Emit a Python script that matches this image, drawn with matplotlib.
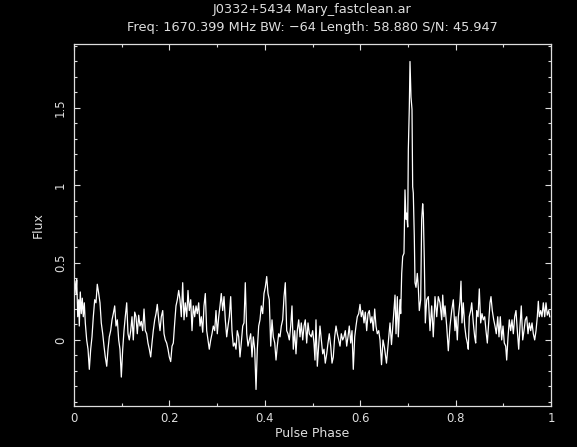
import matplotlib
matplotlib.use("Agg")
import matplotlib.pyplot as plt
from matplotlib.ticker import MultipleLocator, FuncFormatter

# Integrated pulse profile of J0332+5434 (pulse phase vs. flux)
phase = [
    0.0021, 0.0042, 0.0057, 0.0078, 0.0099, 0.0111, 0.0132, 0.0153, 0.0174, 0.0195,
    0.0216, 0.0237, 0.0266, 0.0294, 0.0321, 0.0350, 0.0377, 0.0405, 0.0434, 0.0461,
    0.0488, 0.0518, 0.0545, 0.0572, 0.0602, 0.0629, 0.0656, 0.0686, 0.0713, 0.0740,
    0.0769, 0.0797, 0.0824, 0.0853, 0.0881, 0.0908, 0.0937, 0.0964, 0.0992, 0.1021,
    0.1048, 0.1075, 0.1105, 0.1132, 0.1159, 0.1189, 0.1216, 0.1243, 0.1273, 0.1300,
    0.1327, 0.1356, 0.1384, 0.1411, 0.1440, 0.1468, 0.1495, 0.1524, 0.1551, 0.1579,
    0.1608, 0.1635, 0.1662, 0.1692, 0.1719, 0.1746, 0.1776, 0.1803, 0.1830, 0.1860,
    0.1887, 0.1914, 0.1943, 0.1971, 0.1998, 0.2027, 0.2055, 0.2082, 0.2111, 0.2138,
    0.2166, 0.2195, 0.2222, 0.2250, 0.2279, 0.2306, 0.2333, 0.2363, 0.2390, 0.2417,
    0.2447, 0.2474, 0.2501, 0.2530, 0.2558, 0.2585, 0.2614, 0.2642, 0.2669, 0.2698,
    0.2725, 0.2753, 0.2782, 0.2809, 0.2836, 0.2866, 0.2893, 0.2920, 0.2950, 0.2977,
    0.3004, 0.3034, 0.3061, 0.3088, 0.3117, 0.3145, 0.3172, 0.3201, 0.3229, 0.3256,
    0.3285, 0.3312, 0.3340, 0.3369, 0.3396, 0.3423, 0.3453, 0.3480, 0.3507, 0.3537,
    0.3564, 0.3591, 0.3621, 0.3648, 0.3675, 0.3704, 0.3732, 0.3759, 0.3788, 0.3816,
    0.3843, 0.3872, 0.3899, 0.3927, 0.3956, 0.3983, 0.4010, 0.4040, 0.4067, 0.4094,
    0.4124, 0.4151, 0.4178, 0.4208, 0.4235, 0.4262, 0.4291, 0.4319, 0.4346, 0.4375,
    0.4403, 0.4430, 0.4459, 0.4486, 0.4514, 0.4543, 0.4570, 0.4597, 0.4627, 0.4654,
    0.4681, 0.4711, 0.4738, 0.4765, 0.4795, 0.4822, 0.4849, 0.4878, 0.4906, 0.4933,
    0.4975, 0.5004, 0.5031, 0.5052, 0.5073, 0.5101, 0.5130, 0.5157, 0.5185, 0.5214,
    0.5241, 0.5268, 0.5298, 0.5325, 0.5352, 0.5382, 0.5409, 0.5436, 0.5465, 0.5493,
    0.5520, 0.5549, 0.5577, 0.5604, 0.5633, 0.5660, 0.5688, 0.5717, 0.5744, 0.5771,
    0.5801, 0.5828, 0.5855, 0.5885, 0.5912, 0.5939, 0.5969, 0.5996, 0.6023, 0.6052,
    0.6080, 0.6107, 0.6136, 0.6164, 0.6191, 0.6220, 0.6247, 0.6275, 0.6304, 0.6331,
    0.6358, 0.6388, 0.6415, 0.6447, 0.6478, 0.6509, 0.6551, 0.6589, 0.6625, 0.6656,
    0.6688, 0.6730, 0.6751, 0.6778, 0.6799, 0.6834, 0.6849, 0.6870, 0.6891, 0.6918,
    0.6939, 0.6960, 0.6975, 0.6996, 0.7009, 0.7030, 0.7044, 0.7065, 0.7086, 0.7100,
    0.7113, 0.7134, 0.7149, 0.7170, 0.7197, 0.7218, 0.7239, 0.7268, 0.7289, 0.7310,
    0.7323, 0.7344, 0.7365, 0.7394, 0.7428, 0.7463, 0.7499, 0.7532, 0.7568, 0.7604,
    0.7637, 0.7673, 0.7709, 0.7730, 0.7757, 0.7778, 0.7813, 0.7847, 0.7883, 0.7918,
    0.7952, 0.7987, 0.8008, 0.8036, 0.8057, 0.8092, 0.8113, 0.8134, 0.8161, 0.8191,
    0.8218, 0.8245, 0.8266, 0.8287, 0.8317, 0.8338, 0.8371, 0.8400, 0.8421, 0.8442,
    0.8470, 0.8497, 0.8526, 0.8553, 0.8581, 0.8610, 0.8637, 0.8665, 0.8694, 0.8721,
    0.8742, 0.8769, 0.8799, 0.8826, 0.8853, 0.8883, 0.8910, 0.8937, 0.8966, 0.8994,
    0.9021, 0.9050, 0.9071, 0.9099, 0.9126, 0.9155, 0.9182, 0.9210, 0.9239, 0.9266,
    0.9294, 0.9323, 0.9350, 0.9377, 0.9407, 0.9434, 0.9461, 0.9491, 0.9518, 0.9545,
    0.9574, 0.9602, 0.9629, 0.9658, 0.9686, 0.9713, 0.9734, 0.9755, 0.9784, 0.9811,
    0.9839, 0.9868, 0.9895, 0.9922, 0.9952, 0.9973,
]

flux = [
    0.38, 0.30, 0.39, 0.15, 0.26, 0.09, 0.31, 0.17, 0.27, 0.15,
    0.24, 0.11, 0.00, -0.06, -0.19, -0.06, 0.02, 0.15, 0.26, 0.24,
    0.36, 0.30, 0.24, 0.11, 0.04, -0.04, -0.11, -0.17, -0.06, 0.02,
    0.06, 0.13, 0.17, 0.22, 0.09, 0.13, 0.00, -0.06, -0.24, -0.06,
    0.06, 0.15, 0.24, 0.04, 0.00, 0.06, 0.15, 0.00, 0.18, 0.15,
    0.04, 0.16, 0.09, 0.12, 0.06, 0.20, 0.06, 0.04, -0.02, -0.06,
    -0.11, -0.02, 0.06, 0.13, 0.17, 0.23, 0.13, 0.06, 0.15, 0.19,
    0.04, 0.00, -0.02, -0.06, -0.11, -0.14, -0.04, -0.02, 0.11, 0.22,
    0.26, 0.32, 0.26, 0.15, 0.37, 0.13, 0.24, 0.15, 0.32, 0.19,
    0.26, 0.06, 0.22, 0.15, 0.22, 0.17, 0.24, 0.09, 0.15, 0.05,
    0.22, 0.30, 0.06, 0.00, -0.06, 0.00, 0.04, 0.09, 0.06, 0.19,
    0.04, 0.15, 0.22, 0.30, 0.19, 0.28, 0.13, 0.02, 0.09, 0.15,
    0.28, 0.06, -0.04, -0.02, -0.06, 0.06, 0.02, -0.11, -0.02, 0.09,
    0.11, 0.37, 0.04, -0.04, 0.00, 0.04, -0.11, 0.02, -0.06, -0.32,
    -0.06, 0.09, 0.13, 0.22, 0.17, 0.30, 0.34, 0.41, 0.30, 0.26,
    -0.04, 0.13, 0.02, -0.02, -0.13, -0.04, 0.04, 0.02, 0.09, 0.13,
    0.28, 0.37, 0.06, 0.04, 0.00, 0.09, 0.22, -0.06, 0.06, -0.09,
    0.06, 0.13, 0.02, 0.11, 0.00, 0.09, 0.13, -0.02, 0.11, 0.04,
    0.02, 0.06, -0.02, -0.13, 0.13, -0.17, -0.04, 0.09, 0.00, -0.09,
    -0.06, -0.15, -0.09, -0.02, 0.04, -0.04, -0.15, -0.11, 0.02, 0.09,
    0.04, 0.00, -0.04, 0.04, 0.00, 0.02, 0.06, -0.04, 0.02, 0.09,
    -0.02, 0.06, -0.19, 0.02, 0.09, 0.15, 0.17, 0.23, 0.15, 0.19,
    0.11, 0.18, 0.06, 0.17, 0.19, 0.11, 0.15, 0.06, 0.20, 0.09,
    0.04, 0.06, 0.00, -0.16, 0.00, -0.05, -0.15, -0.02, 0.11, -0.03,
    0.11, 0.29, 0.04, 0.28, 0.02, 0.26, 0.17, 0.43, 0.54, 0.56,
    0.97, 0.78, 0.82, 0.73, 1.23, 1.51, 1.80, 1.57, 1.49, 0.99,
    0.95, 0.67, 0.37, 0.34, 0.43, 0.34, 0.19, 0.26, 0.78, 0.88,
    0.82, 0.52, 0.11, 0.26, 0.28, 0.06, 0.22, 0.02, 0.28, 0.15,
    0.28, 0.24, 0.13, 0.29, 0.15, 0.22, 0.09, -0.07, 0.09, 0.19,
    0.26, 0.06, 0.15, 0.00, 0.15, 0.25, 0.38, 0.11, 0.24, 0.09,
    0.02, -0.02, -0.06, 0.15, 0.19, 0.24, 0.11, 0.02, -0.02, 0.19,
    0.15, 0.33, 0.11, 0.17, 0.13, 0.15, 0.06, -0.02, 0.11, 0.24,
    0.28, 0.19, 0.13, 0.09, 0.04, 0.15, 0.02, 0.15, 0.00, 0.09,
    -0.02, -0.04, -0.13, 0.02, 0.13, 0.06, 0.13, 0.04, 0.15, 0.19,
    0.06, -0.06, 0.09, 0.22, 0.00, 0.06, 0.13, 0.15, 0.04, 0.11,
    0.06, 0.11, 0.04, 0.00, 0.06, 0.15, 0.25, 0.15, 0.19, 0.15,
    0.24, 0.15, 0.24, 0.16, 0.19, 0.15,
]

title_lines = [
    "J0332+5434 Mary_fastclean.ar",
    "Freq: 1670.399 MHz BW: \u221264 Length: 58.880 S/N: 45.947",
]

fg = "#dedede"
plt.rcParams["font.family"] = ["DejaVu Sans"]

fig = plt.figure(figsize=(5.77, 4.47), dpi=100, facecolor="black")
ax = fig.add_axes([74 / 577, 41 / 447, 477 / 577, 362 / 447], facecolor="black")

ax.plot(phase, flux, color="white", linewidth=0.9)

ax.set_xlim(0, 1)
ax.set_ylim(-0.427, 1.913)

ax.xaxis.set_major_locator(MultipleLocator(0.2))
ax.xaxis.set_minor_locator(MultipleLocator(0.1))
ax.yaxis.set_major_locator(MultipleLocator(0.5))
ax.yaxis.set_minor_locator(MultipleLocator(0.1))
ax.xaxis.set_major_formatter(FuncFormatter(lambda v, p: f"{v:g}"))
ax.yaxis.set_major_formatter(FuncFormatter(lambda v, p: f"{v:g}"))

ax.tick_params(which="both", direction="in", top=True, right=True,
               color=fg, width=0.8, labelcolor=fg, labelsize=8.4)
ax.tick_params(which="major", length=4)
ax.tick_params(which="minor", length=2)
ax.tick_params(axis="x", pad=4.5)
ax.tick_params(axis="y", pad=5)
for lbl in ax.get_yticklabels():
    lbl.set_rotation(90)
    lbl.set_va("center")
for s in ax.spines.values():
    s.set_color(fg)
    s.set_linewidth(0.9)

ax.text(0.5, -0.077, "Pulse Phase", transform=ax.transAxes, ha="center",
        va="center", color=fg, fontsize=9)
ax.text(-0.0755, 0.5, "Flux", transform=ax.transAxes, ha="center",
        va="center", rotation=90, color=fg, fontsize=9)

fig.text(312.5 / 577, 1 - 10 / 447, title_lines[0], ha="center", va="center",
         color=fg, fontsize=9.3)
fig.text(312.5 / 577, 1 - 27 / 447, title_lines[1], ha="center", va="center",
         color=fg, fontsize=9.3)

fig.savefig("out.png", dpi=100, facecolor="black")
